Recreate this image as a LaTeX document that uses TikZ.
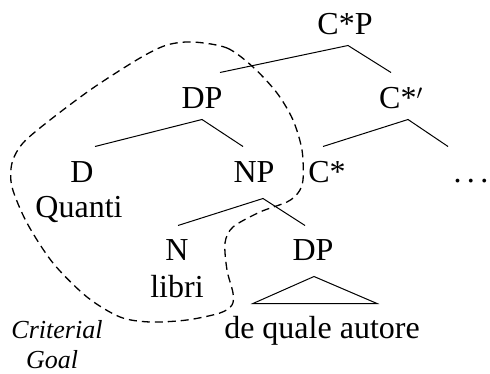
\documentclass[tikz,border=0pt]{standalone}
\usepackage{fontspec}
\setmainfont{Liberation Serif}

\begin{document}
\begin{tikzpicture}[x=1pt, y=-1pt, line width=1pt,
  every node/.style={font=\fontsize{32pt}{38pt}\selectfont, inner sep=0pt,
    text height=21pt, text depth=0pt, anchor=base},
  goal/.style={font=\fontsize{26pt}{33pt}\selectfont\itshape, text height=18pt}]
\useasboundingbox (0,0) rectangle (490,374);
% labels
\node (cp) at (345,35) {C*P};
\node (dp) at (202,109) {DP};
\node (cb) at (401,109) {C*$'$};
\node (d) at (82,183) {D};
\node (np) at (254,183) {NP};
\node (cs) at (327,183) {C*};
\node (dots) at (471,183) {.\,.\,.};
\node (quanti) at (79,218) {Quanti};
\node (n) at (177,260) {N};
\node (dp2) at (313,260) {DP};
\node (libri) at (177,297) {libri};
\node (autore) at (322,338) {de quale autore};
\node[goal] (criterial) at (57,338) {Criterial};
\node[goal] (goalw) at (52,368) {Goal};
% branches
\draw ([xshift=18pt,yshift=15pt]dp.north) -- ([xshift=3pt,yshift=-10pt]cp.south) -- ([xshift=-10pt,yshift=15pt]cb.north);
\draw ([xshift=13pt,yshift=15pt]d.north) -- ([yshift=-10pt]dp.south) -- ([xshift=-11pt,yshift=15pt]np.north);
\draw ([xshift=-4pt,yshift=15pt]cs.north) -- ([xshift=7pt,yshift=-10pt]cb.south) -- ([xshift=-23pt,yshift=15pt]dots.north);
\draw ([xshift=1pt,yshift=13pt]n.north) -- ([xshift=9pt,yshift=-15pt]np.south) -- ([xshift=-8pt,yshift=13pt]dp2.north);
\draw ([xshift=1pt,yshift=-16pt]dp2.south) -- ([xshift=55pt,yshift=13pt]autore.north) -- ([xshift=-69pt,yshift=13pt]autore.north) -- cycle;
% criterial goal region
\draw[line width=1.3pt, dash pattern=on 8pt off 5pt] plot[smooth cycle] coordinates {
  (193,42) (227,48) (253,67) (277,93) (293,120) (302,150) (303,180) (298,193)
  (287,202) (260,212) (233,227) (225,243) (227,270) (233,293) (232,305) (220,313)
  (187,320) (150,322) (120,317) (87,297) (53,263) (27,223) (12,187) (12,163)
  (23,143) (50,120) (93,88) (140,58) (167,45)};
\end{tikzpicture}
\end{document}
